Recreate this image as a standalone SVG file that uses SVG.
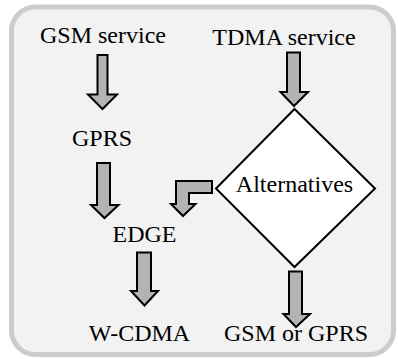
<svg xmlns="http://www.w3.org/2000/svg" width="398" height="359" viewBox="0 0 398 359">
<style>
.t{font-family:'Liberation Serif','Times New Roman',serif;font-size:24px;fill:#000;text-anchor:middle}
.arr{fill:#b3b3b3;stroke:#000;stroke-width:2;stroke-linejoin:miter}
</style>
<rect x="0" y="0" width="398" height="359" fill="#ffffff"/>
<rect id="frame" x="11.5" y="7" width="382" height="347.5" rx="24" ry="24" fill="#f2f2f2" stroke="#cccccc" stroke-width="5"/>
<g id="connectors">
<path class="arr" d="M97.5,55 L107.5,55 L107.5,94.5 L117,94.5 L102.5,109 L88,94.5 L97.5,94.5 Z"/>
<path class="arr" d="M287,52.5 L300,52.5 L300,92 L308,92 L294,106 L280.5,92 L287,92 Z"/>
<path class="arr" d="M97,163 L110,163 L110,205 L118.5,205 L104.5,218 L91,205 L97,205 Z"/>
<path class="arr" d="M137,252.5 L151,252.5 L151,291 L158,291 L144.5,305.5 L131,291 L137,291 Z"/>
<path class="arr" d="M289,271.5 L302,271.5 L302,314 L310,314 L296,327 L283.5,314 L289,314 Z"/>
<path class="arr" d="M212,181 L176,181 L176,204 L171,204 L183,216 L195.5,204 L189,204 L189,193 L212,193 Z"/>
</g>
<g id="gsm"><text class="t" x="103" y="42.5">GSM service</text></g>
<g id="tdma"><text class="t" x="284" y="44.5">TDMA service</text></g>
<g id="gprs"><text class="t" x="102" y="146">GPRS</text></g>
<g id="edge"><text class="t" x="144.5" y="241.5">EDGE</text></g>
<g id="wcdma"><text class="t" x="139.5" y="340.5">W-CDMA</text></g>
<g id="gsmorgprs"><text class="t" x="296" y="340.5">GSM or GPRS</text></g>
<g id="alternatives">
<polygon points="294.5,109 375,188.5 294.5,267 216,188.5" fill="#ffffff" stroke="#000" stroke-width="2"/>
<text class="t" x="294.5" y="191.5">Alternatives</text>
</g>
</svg>
